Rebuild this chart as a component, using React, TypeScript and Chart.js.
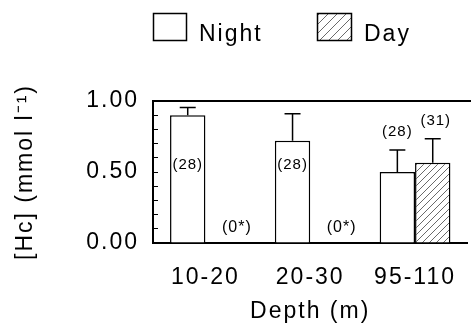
import React, { useEffect, useRef } from 'react';
import { Chart, registerables } from 'chart.js';

Chart.register(...registerables);

// ---- data ----
const categories = ['10-20', '20-30', '95-110'];
const seriesNames = ['Night', 'Day'];
const nightValues = [0.9, 0.72, 0.5];
const nightErrors = [0.055, 0.19, 0.155];
const dayValues = [0, 0, 0.565];
const dayErrors = [0, 0, 0.17];
const nightCounts = ['(28)', '(28)', '(28)'];
const dayCounts = ['(0*)', '(0*)', '(31)'];
const yLabelledTicks = [0, 0.5, 1.0];
const yTitle = '[Hc] (mmol l\u207B\u00B9)';
const xTitle = 'Depth (m)';

const FONT = '"Liberation Sans", Arial, Helvetica, sans-serif';
const BIG = 23;

function makeHatch(spacing: number): CanvasPattern | string {
  const c = document.createElement('canvas');
  c.width = spacing;
  c.height = spacing;
  const g = c.getContext('2d');
  if (!g) return '#fff';
  g.fillStyle = '#fff';
  g.fillRect(0, 0, spacing, spacing);
  g.strokeStyle = '#444';
  g.lineWidth = 0.8;
  g.beginPath();
  g.moveTo(0, spacing);
  g.lineTo(spacing, 0);
  g.moveTo(-1, 1);
  g.lineTo(1, -1);
  g.moveTo(spacing - 1, spacing + 1);
  g.lineTo(spacing + 1, spacing - 1);
  g.stroke();
  const p = g.createPattern(c, 'repeat');
  return p || '#fff';
}

export default function App() {
  const ref = useRef<HTMLCanvasElement | null>(null);

  useEffect(() => {
    if (!ref.current) return;
    const barHatch = makeHatch(7);
    const legendHatch = makeHatch(9);
    const values = [nightValues, dayValues];
    const errors = [nightErrors, dayErrors];
    const counts = [nightCounts, dayCounts];

    const decor = {
      id: 'decor',
      beforeDraw(chart: any) {
        chart.ctx.letterSpacing = '2px';
      },
      afterDatasetsDraw(chart: any) {
        const ctx = chart.ctx as CanvasRenderingContext2D;
        const ca = chart.chartArea;
        const ys = chart.scales.y;
        const xs = chart.scales.x;
        ctx.save();
        ctx.strokeStyle = '#000';
        ctx.lineWidth = 2;
        ctx.beginPath();
        ctx.moveTo(ca.left - 1, ca.top);
        ctx.lineTo(chart.width, ca.top);
        ctx.stroke();

        const catW = xs.getPixelForValue(1) - xs.getPixelForValue(0);
        ctx.lineWidth = 1.5;
        ctx.fillStyle = '#000';
        ctx.textAlign = 'center';
        ctx.textBaseline = 'middle';
        (ctx as any).letterSpacing = '1px';
        for (let d = 0; d < 2; d++) {
          const meta = chart.getDatasetMeta(d);
          meta.data.forEach((bar: any, i: number) => {
            const v = values[d][i];
            const e = errors[d][i];
            const cx = bar.x;
            let topY = ys.getPixelForValue(v);
            if (v > 0 && e > 0) {
              const y1 = ys.getPixelForValue(v + e);
              ctx.beginPath();
              ctx.moveTo(cx, topY);
              ctx.lineTo(cx, y1);
              ctx.moveTo(cx - 8, y1);
              ctx.lineTo(cx + 8, y1);
              ctx.stroke();
              topY = y1;
            }
            const label = counts[d][i];
            if (v === 0) {
              ctx.font = `16px ${FONT}`;
              ctx.fillText(label, xs.getPixelForValue(i) + 0.3 * catW, ys.getPixelForValue(0.11));
            } else if (v >= 0.6) {
              ctx.font = `15px ${FONT}`;
              ctx.fillText(label, cx, ys.getPixelForValue(0.55));
            } else {
              ctx.font = `15px ${FONT}`;
              ctx.fillText(label, cx + (d === 1 ? 3 : 0), topY - 18);
            }
          });
        }
        ctx.restore();
      },
      afterDraw(chart: any) {
        const ctx = chart.ctx as CanvasRenderingContext2D;
        ctx.save();
        (ctx as any).letterSpacing = '2px';
        const boxes = [
          { x: 153.5, w: 33, tx: 199, fill: '#fff' as any },
          { x: 317.5, w: 34, tx: 364, fill: legendHatch as any },
        ];
        boxes.forEach((b, i) => {
          ctx.fillStyle = b.fill;
          ctx.fillRect(b.x, 13.5, b.w, 27);
          ctx.strokeStyle = '#000';
          ctx.lineWidth = 1.5;
          ctx.strokeRect(b.x, 13.5, b.w, 27);
          ctx.fillStyle = '#000';
          ctx.font = `${BIG}px ${FONT}`;
          ctx.textAlign = 'left';
          ctx.textBaseline = 'alphabetic';
          ctx.fillText(seriesNames[i], b.tx, 40.5);
        });
        ctx.restore();
      },
    };

    const chart = new Chart(ref.current, {
      type: 'bar',
      data: {
        labels: categories,
        datasets: [
          {
            label: seriesNames[0],
            data: nightValues,
            backgroundColor: '#fff',
            borderColor: '#000',
            borderWidth: 1.5,
            categoryPercentage: 0.675,
            barPercentage: 1,
          },
          {
            label: seriesNames[1],
            data: dayValues,
            backgroundColor: barHatch as any,
            borderColor: '#000',
            borderWidth: 1.5,
            categoryPercentage: 0.675,
            barPercentage: 1,
          },
        ],
      },
      options: {
        responsive: false,
        animation: false,
        layout: { padding: { top: 101, left: 0, right: 0, bottom: 0 } },
        plugins: {
          legend: { display: false },
          tooltip: { enabled: false },
        },
        scales: {
          x: {
            type: 'category',
            grid: { drawOnChartArea: false, drawTicks: false },
            border: { color: '#000', width: 2 },
            ticks: { color: '#000', font: { size: BIG, family: FONT }, padding: 21 },
            title: {
              display: true,
              text: xTitle,
              color: '#000',
              font: { size: BIG, family: FONT },
              padding: { top: 0, bottom: 0 },
            },
            afterFit(s: any) {
              s.height = 82;
            },
          },
          y: {
            min: 0,
            max: 1,
            grid: { drawOnChartArea: false, drawTicks: true, tickLength: -5, color: '#000', lineWidth: 1 },
            border: { color: '#000', width: 2 },
            ticks: {
              stepSize: 0.1,
              autoSkip: false,
              color: '#000',
              font: { size: BIG, family: FONT },
              padding: 19,
              callback: (v: any) =>
                yLabelledTicks.some((t) => Math.abs(t - Number(v)) < 1e-6) ? Number(v).toFixed(2) : '',
            },
            title: {
              display: true,
              text: yTitle,
              color: '#000',
              font: { size: BIG, family: FONT },
              padding: { top: 12, bottom: 0 },
            },
            afterFit(s: any) {
              s.width = 153;
            },
          },
        },
      } as any,
      plugins: [decor as any],
    });
    return () => chart.destroy();
  }, []);

  return (
    <div style={{ position: 'absolute', left: 0, top: 0, width: 471, height: 325, background: '#fff' }}>
      <canvas ref={ref} width={471} height={325} style={{ display: 'block', width: 471, height: 325 }} />
    </div>
  );
}
